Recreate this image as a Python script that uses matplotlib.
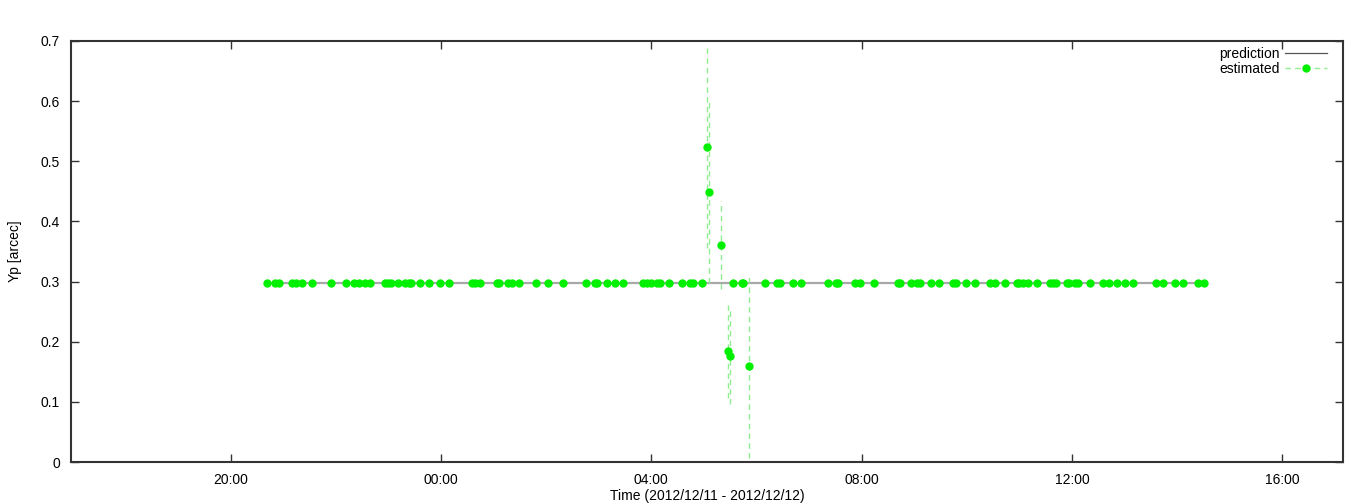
import numpy as np
import pandas as pd
import matplotlib
matplotlib.use('Agg')
import matplotlib.pyplot as plt
import matplotlib.dates as mdates
from matplotlib.lines import Line2D
from matplotlib.ticker import FuncFormatter

plt.rcParams['font.family'] = ['Liberation Sans', 'DejaVu Sans']

# --------------------------------------------------------------------------+
# estimated values lying on the prediction (Yp ~ 0.297 arcsec)
flat_times = ['20:42', '20:51', '20:55', '21:10', '21:15', '21:21', '21:33', '21:55',
              '22:12', '22:21', '22:26', '22:33', '22:39', '22:56', '23:00', '23:03',
              '23:11', '23:19', '23:24', '23:26', '23:36', '23:46', '23:59', '00:09',
              '00:35', '00:39', '00:44', '01:04', '01:06', '01:17', '01:21', '01:29',
              '01:49', '02:02', '02:19', '02:45', '02:56', '02:58', '03:10', '03:19',
              '03:28', '03:50', '03:55', '04:00', '04:06', '04:10', '04:20', '04:35',
              '04:44', '04:48', '04:58', '05:33', '05:43', '05:45', '06:10', '06:23',
              '06:27', '06:42', '06:51', '07:22', '07:31', '07:33', '07:52', '07:58',
              '08:14', '08:41', '08:44', '08:56', '09:03', '09:06', '09:19', '09:28',
              '09:44', '09:47', '09:59', '10:09', '10:26', '10:32', '10:43', '10:57',
              '11:00', '11:04', '11:10', '11:20', '11:35', '11:38', '11:42', '11:54',
              '11:57', '12:03', '12:07', '12:20', '12:35', '12:42', '12:51', '13:00',
              '13:09', '13:36', '13:44', '13:57', '14:07', '14:24', '14:31']
flat_value = 0.297

# outliers with their error bars
out_times = ['05:04', '05:06', '05:20', '05:28', '05:30', '05:52']
out_values = [0.524, 0.449, 0.361, 0.185, 0.176, 0.159]
out_errors = [0.168, 0.152, 0.073, 0.078, 0.079, 0.152]

# prediction
pred_times = ['20:42', '14:31']
pred_values = [0.297, 0.297]

xmin, xmax = '16:58', '17:09'
# --------------------------------------------------------------------------+


def to_dt(hhmm):
    # times from 16:00 on belong to 2012/12/11, the rest to 2012/12/12
    h = int(hhmm.split(':')[0])
    if h >= 16:
        return pd.Timestamp('2012-12-11 ' + hhmm)
    return pd.Timestamp('2012-12-12 ' + hhmm)


t_flat = [to_dt(t) for t in flat_times]
t_out = [to_dt(t) for t in out_times]
t_pred = [to_dt(t) for t in pred_times]

t_all = t_flat + t_out
order = np.argsort(t_all)
t_est = [t_all[i] for i in order]
v_est = np.array([flat_value] * len(t_flat) + out_values)[order]
e_est = np.array([0.0] * len(t_flat) + out_errors)[order]

green = '#00f000'
lgreen = '#90ee90'
grey = '#a8a8a8'
fs = 10

fig = plt.figure(figsize=(13.68, 5.04), dpi=100)
ax = fig.add_axes([0.0519, 0.0833, 0.9298, 0.8354])

ax.plot(t_pred, pred_values, color=grey, linewidth=1.6, zorder=2)
eb = ax.errorbar(t_est, v_est, yerr=e_est, fmt='none', ecolor=lgreen,
                 elinewidth=1.0, capsize=0, zorder=3)
for c in eb[2]:
    c.set_linestyle((0, (4, 3)))
ax.plot(t_est, v_est, linestyle='none', marker='o', markersize=6,
        color=green, markeredgewidth=0, zorder=4)

ax.set_xlim(pd.Timestamp('2012-12-11 ' + xmin), pd.Timestamp('2012-12-12 ' + xmax))
ax.set_ylim(0, 0.7)
ax.xaxis.set_major_locator(mdates.HourLocator(byhour=[0, 4, 8, 12, 16, 20]))
ax.xaxis.set_major_formatter(mdates.DateFormatter('%H:%M'))
ax.set_yticks(np.arange(0, 0.71, 0.1))
ax.yaxis.set_major_formatter(FuncFormatter(lambda v, p: '%g' % round(v, 2)))

ax.tick_params(direction='in', length=6, width=1, top=True, right=True,
               labelsize=fs, color='#333333', pad=8)
for s in ax.spines.values():
    s.set_linewidth(1.5)
    s.set_color('#333333')

ax.set_xlabel('Time (2012/12/11 - 2012/12/12)', fontsize=fs, labelpad=1)
ax.set_ylabel('Yp [arcec]', fontsize=fs, labelpad=13)

handles = [Line2D([], [], color='#555555', linewidth=0.9),
           Line2D([], [], color=lgreen, linestyle=(0, (4, 3)), linewidth=1.0,
                  marker='o', markersize=6, markerfacecolor=green,
                  markeredgewidth=0)]
ax.legend(handles, ['prediction', 'estimated'], loc='upper right',
          bbox_to_anchor=(0.9874, 0.985), frameon=False, markerfirst=False,
          fontsize=fs, handlelength=3.0, labelspacing=0.05, borderaxespad=0,
          borderpad=0, handletextpad=0.4)

plt.savefig('out.png', dpi=100)
